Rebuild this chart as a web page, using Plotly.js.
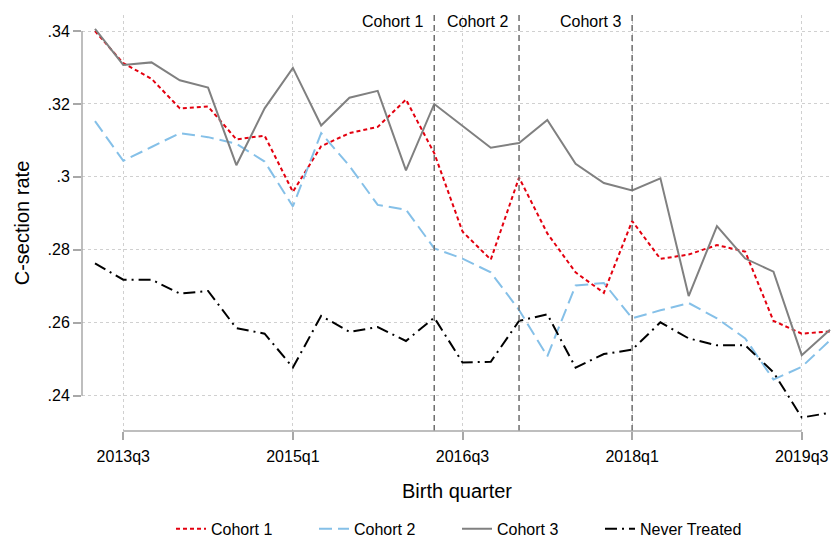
<!DOCTYPE html>
<html>
<head>
<meta charset="utf-8">
<script src="https://cdn.plot.ly/plotly-3.0.1.min.js"></script>
<style>
  html, body { margin: 0; padding: 0; background: #fff; }
  #chart { width: 834px; height: 548px; }
</style>
</head>
<body>
<div id="chart"></div>
<script>
  // birth quarters, 2013q2 .. 2019q4
  const quarters = ['2013q2','2013q3','2013q4','2014q1','2014q2','2014q3','2014q4',
    '2015q1','2015q2','2015q3','2015q4','2016q1','2016q2','2016q3','2016q4',
    '2017q1','2017q2','2017q3','2017q4','2018q1','2018q2','2018q3','2018q4',
    '2019q1','2019q2','2019q3','2019q4'];

  const cohort1 = [0.3400, 0.3312, 0.3269, 0.3188, 0.3193, 0.3103, 0.3113,
    0.2959, 0.3084, 0.3120, 0.3137, 0.3212, 0.3065, 0.2850, 0.2773,
    0.2998, 0.2845, 0.2738, 0.2682, 0.2879, 0.2775, 0.2787, 0.2813,
    0.2795, 0.2605, 0.2570, 0.2576];

  const cohort2 = [0.3153, 0.3044, 0.3082, 0.3120, 0.3109, 0.3091, 0.3042,
    0.2919, 0.3120, 0.3030, 0.2923, 0.2910, 0.2804, 0.2776, 0.2738,
    0.2635, 0.2508, 0.2702, 0.2709, 0.2612, 0.2634, 0.2654, 0.2612,
    0.2557, 0.2444, 0.2479, 0.2552];

  const cohort3 = [0.3406, 0.3307, 0.3314, 0.3265, 0.3245, 0.3032, 0.3188,
    0.3299, 0.3141, 0.3217, 0.3236, 0.3018, 0.3200, 0.3140, 0.3080,
    0.3093, 0.3156, 0.3036, 0.2983, 0.2963, 0.2996, 0.2673, 0.2865,
    0.2776, 0.2740, 0.2511, 0.2581];

  const neverTreated = [0.2763, 0.2718, 0.2718, 0.2680, 0.2687, 0.2585, 0.2570,
    0.2477, 0.2619, 0.2575, 0.2588, 0.2550, 0.2614, 0.2491, 0.2493,
    0.2605, 0.2623, 0.2477, 0.2514, 0.2526, 0.2601, 0.2557, 0.2538,
    0.2538, 0.2464, 0.2340, 0.2353];

  const xTicks = ['2013q3','2015q1','2016q3','2018q1','2019q3'];
  const yTicks = [0.24, 0.26, 0.28, 0.30, 0.32, 0.34];
  const yTickText = ['.24', '.26', '.28', '.3', '.32', '.34'];

  const cohortStarts = ['2016q2', '2017q1', '2018q1'];
  const cohortLabels = ['Cohort 1', 'Cohort 2', 'Cohort 3'];

  const font = 'Liberation Sans, Arial, Helvetica, sans-serif';
  const axisGrey = '#a8a8a8';

  var trace1 = {
    x: quarters, y: cohort1, mode: 'lines', name: 'Cohort 1',
    line: { color: '#e3000f', width: 2, dash: '4px,3px' }
  };
  var trace2 = {
    x: quarters, y: cohort2, mode: 'lines', name: 'Cohort 2',
    line: { color: '#85c0e8', width: 2, dash: '13px,6px' }
  };
  var trace3 = {
    x: quarters, y: cohort3, mode: 'lines', name: 'Cohort 3',
    line: { color: '#808080', width: 2 }
  };
  var trace4 = {
    x: quarters, y: neverTreated, mode: 'lines', name: 'Never Treated',
    line: { color: '#000000', width: 2, dash: '12px,5px,2px,5px' }
  };

  let shapes = [];
  let annotations = [];

  // treatment start lines with their labels
  for (let i = 0; i < cohortStarts.length; i++) {
    shapes.push({
      type: 'line', xref: 'x', yref: 'paper',
      x0: cohortStarts[i], x1: cohortStarts[i], y0: 0, y1: 1,
      line: { color: '#6e6e6e', width: 1.5, dash: '6px,4px' }
    });
    annotations.push({
      x: cohortStarts[i], xref: 'x', y: 1, yref: 'paper',
      xanchor: 'right', yanchor: 'top', xshift: -9, yshift: 4,
      showarrow: false, text: cohortLabels[i],
      font: { family: font, size: 16, color: '#000' }
    });
  }

  // axis lines only span the tick range, like the original
  shapes.push({
    type: 'line', xref: 'x', yref: 'paper',
    x0: xTicks[0], x1: xTicks[xTicks.length - 1], y0: 0, y1: 0,
    line: { color: axisGrey, width: 1.5 }
  });
  shapes.push({
    type: 'line', xref: 'paper', yref: 'y',
    x0: 0, x1: 0, y0: yTicks[0], y1: yTicks[yTicks.length - 1],
    line: { color: axisGrey, width: 1.5 }
  });

  var layout = {
    width: 834,
    height: 548,
    margin: { l: 82, r: 2, t: 15, b: 102 },
    paper_bgcolor: '#fff',
    plot_bgcolor: '#fff',
    font: { family: font, size: 16, color: '#000' },
    showlegend: true,
    legend: {
      orientation: 'h', x: 0.5, xanchor: 'center', y: -0.235, yanchor: 'middle',
      font: { family: font, size: 16 }, itemwidth: 30,
      entrywidth: 98
    },
    xaxis: {
      type: 'category',
      range: [-0.46, 26.07],
      tickvals: xTicks,
      ticktext: xTicks,
      ticks: 'outside', ticklen: 8, tickcolor: axisGrey, tickwidth: 1.5,
      ticklabelstandoff: 3,
      showline: false, zeroline: false,
      showgrid: true, gridcolor: '#d0d0d0', griddash: 'dot', gridwidth: 1,
      tickfont: { family: font, size: 16 },
      title: { text: 'Birth quarter', font: { family: font, size: 20 }, standoff: 19 },
      automargin: false
    },
    yaxis: {
      range: [0.2303, 0.3444],
      tickvals: yTicks,
      ticktext: yTickText,
      ticks: 'outside', ticklen: 8, tickcolor: axisGrey, tickwidth: 1.5,
      showline: false, zeroline: false,
      showgrid: true, gridcolor: '#d0d0d0', griddash: 'dot', gridwidth: 1,
      tickfont: { family: font, size: 16 },
      title: { text: 'C-section rate', font: { family: font, size: 20 }, standoff: 12 },
      automargin: false
    },
    shapes: shapes,
    annotations: annotations
  };

  Plotly.newPlot('chart', [trace1, trace2, trace3, trace4], layout, { displayModeBar: false });
</script>
</body>
</html>
